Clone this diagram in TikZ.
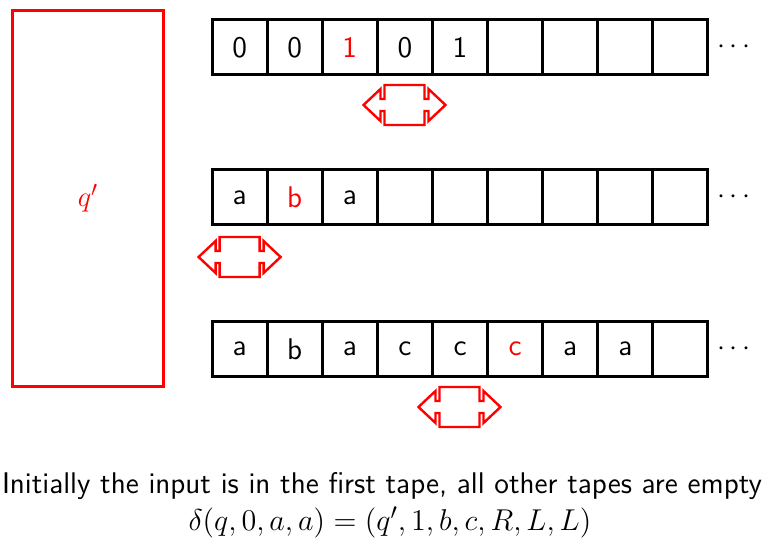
\documentclass[tikz,border=0pt]{standalone}
\usepackage{fontspec}
\begin{document}
\begin{tikzpicture}[x=0.5bp,y=-0.5bp,>=latex,line join=miter,
  font=\fontsize{15}{18}\selectfont\sffamily,
  cell/.style={draw,line width=1.5bp,minimum width=27.55bp,minimum height=27.5bp,inner sep=0pt},
  headarrow/.style={draw=red,line width=1.2bp},
  headmove/.pic={\draw[headarrow] (-41,0) -- (-24,-16) -- (-24,-6) -- (-20,-6) -- (-20,-20) -- (20,-20) -- (20,-6) -- (24,-6) -- (24,-16) -- (41,0) -- (24,16) -- (24,6) -- (20,6) -- (20,20) -- (-20,20) -- (-20,6) -- (-24,6) -- (-24,16) -- cycle;}]
\useasboundingbox (0,0) rectangle (771,552);
%%
\node (state) at (88,198.5) [draw=red,line width=1.5bp,minimum width=75bp,minimum height=188bp] {\color{red}$q'$};
%
\foreach \sym [count=\i] in {0,0,\color{red}1,0,1,{},{},{},{}}
  \node (cell_1_\i) at (239.6+55.1*\i-55.1,47.5) [cell] {\sym};
\node (dots_1) at (734,47.5) {$\cdots$};
%
\foreach \sym [count=\i] in {a,\color{red}b,a,{},{},{},{},{},{}}
  \node (cell_2_\i) at (239.6+55.1*\i-55.1,197.5) [cell] {\sym};
\node (dots_2) at (734,197.5) {$\cdots$};
%
\foreach \sym [count=\i] in {a,b,a,c,c,\color{red}c,a,a,{}}
  \node (cell_3_\i) at (239.6+55.1*\i-55.1,349) [cell] {\sym};
\node (dots_3) at (734,349) {$\cdots$};
%
\pic (head_1) at (404.5,105) {headmove};
\pic (head_2) at (239.6,257) {headmove};
\pic (head_3) at (459.5,407) {headmove};
%
\node (caption) at (382,486) {Initially the input is in the first tape, all other tapes are empty};
\node (delta) at (390,522) [scale=1.05,transform shape] {$\delta(q,0,a,a) = (q',1,b,c,R,L,L)$};
%
\end{tikzpicture}
\end{document}
